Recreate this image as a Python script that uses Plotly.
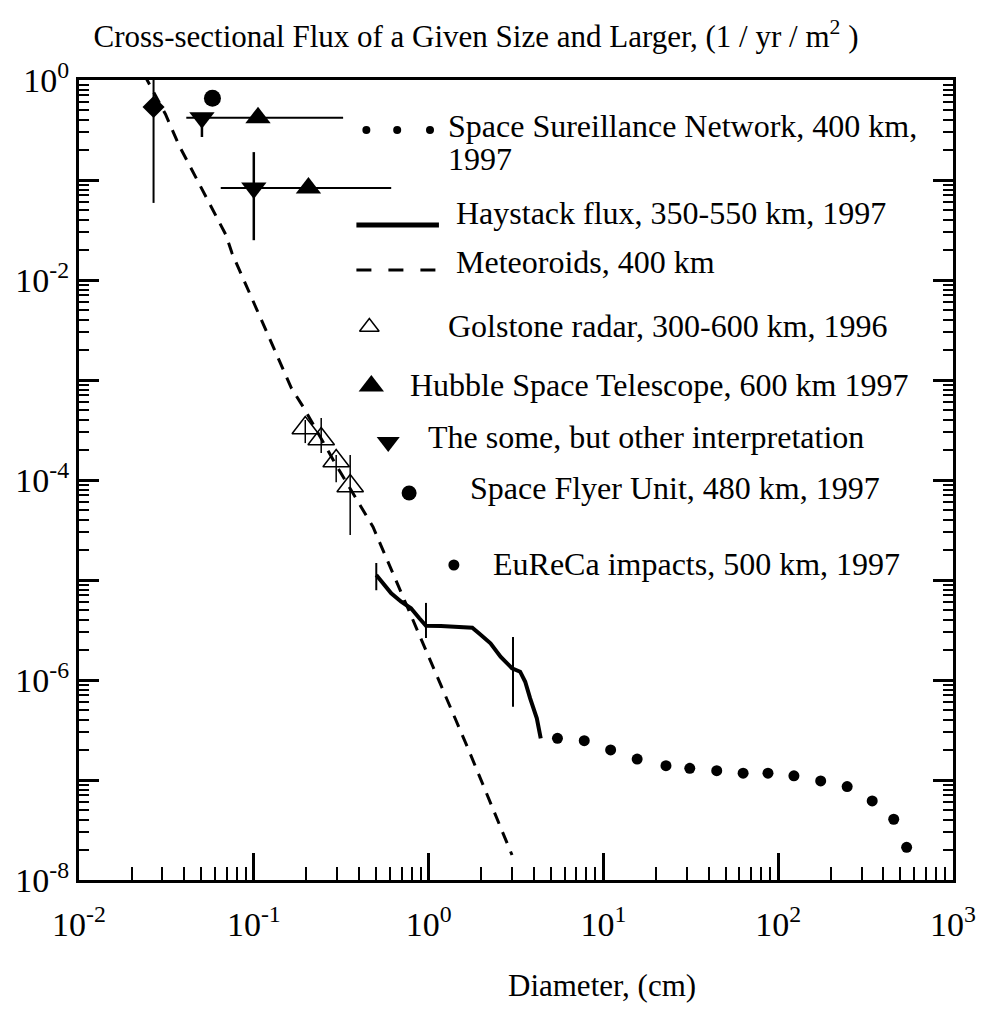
import plotly.graph_objects as go

# ---------------- data ----------------
ssn_d = [5.46, 7.77, 11.0, 15.6, 22.8, 31.2, 44.5, 63.0, 87.4, 123, 175, 248, 345, 458, 543]
ssn_f = [2.61e-7, 2.47e-7, 2.0e-7, 1.62e-7, 1.39e-7, 1.31e-7, 1.24e-7, 1.17e-7, 1.17e-7,
         1.10e-7, 9.8e-8, 8.6e-8, 6.17e-8, 4.05e-8, 2.12e-8]

hay_d = [0.502, 0.548, 0.611, 0.697, 0.793, 0.885, 0.966, 1.175, 1.40, 1.778, 1.94, 2.26,
         2.58, 3.0, 3.34, 3.57, 3.81, 4.16, 4.38]
hay_f = [1.12e-5, 9.27e-6, 7.36e-6, 6.07e-6, 5.21e-6, 4.14e-6, 3.49e-6, 3.47e-6, 3.41e-6,
         3.34e-6, 2.93e-6, 2.33e-6, 1.71e-6, 1.31e-6, 1.21e-6, 9.6e-7, 6.56e-7, 4.14e-7, 2.61e-7]
hay_err_d = [0.502, 0.966, 3.04]
hay_err_f = [1.12e-5, 3.49e-6, 1.31e-6]
hay_err_plus = [3.6e-6, 2.41e-6, 1.38e-6]
hay_err_minus = [3.3e-6, 0.86e-6, 0.77e-6]

met_d = [0.0235, 0.0312, 0.0375, 0.050, 0.0693, 0.075, 0.164, 0.192, 0.296, 0.481, 0.667,
         1.054, 1.667, 3.0]
met_f = [1.15, 0.457, 0.219, 0.083, 0.0282, 0.0186, 8.3e-4, 5.37e-4, 1.41e-4, 3.39e-5,
         8.9e-6, 1.41e-6, 2.14e-7, 1.78e-8]

gold_d = [0.197, 0.243, 0.296, 0.356]
gold_f = [3.31e-4, 2.57e-4, 1.55e-4, 8.7e-5]
gold_plus = [6.7e-5, 1.6e-4, 2.3e-5, 9.1e-5]
gold_minus = [9.7e-5, 7.1e-5, 6.0e-5, 5.88e-5]

hst_d = [0.1057, 0.2054]
hst_f = [0.42, 0.083]
hst_xplus = [0.2186, 0.4056]
hst_xminus = [0.0646, 0.1407]

alt_d = [0.0505, 0.1]
alt_f = [0.42, 0.083]
alt_plus = [0.0, 0.107]
alt_minus = [0.151, 0.058]

sfu_d = [0.058]
sfu_f = [0.656]

eur_d = [0.0267]
eur_f = [0.537]
eur_plus = [0.97]
eur_minus = [0.478]

x_tick_vals = [1e-2, 1e-1, 1e0, 1e1, 1e2, 1e3]
x_tick_text = ["10<sup>-2</sup>", "10<sup>-1</sup>", "10<sup>0</sup>", "10<sup>1</sup>",
               "10<sup>2</sup>", "10<sup>3</sup>"]
y_tick_vals = [1e0, 1e-2, 1e-4, 1e-6, 1e-8]
y_tick_text = ["10<sup>0</sup>", "10<sup>-2</sup>", "10<sup>-4</sup>", "10<sup>-6</sup>",
               "10<sup>-8</sup>"]
y_odd_decades = [1e-1, 1e-3, 1e-5, 1e-7]

legend_labels = ["Space Sureillance Network, 400 km,", "1997",
                 "Haystack flux, 350-550 km, 1997", "Meteoroids, 400 km",
                 "Golstone radar, 300-600 km, 1996", "Hubble Space Telescope, 600 km 1997",
                 "The some, but other interpretation", "Space Flyer Unit, 480 km, 1997",
                 "EuReCa impacts, 500 km, 1997"]

title_text = "Cross-sectional Flux of a Given Size and Larger, (1 / yr / m<sup>2</sup> )"
xlabel_text = "Diameter, (cm)"

# ---------------- styling / layout ----------------
FONT = "Liberation Serif"
FS = 32
TFS = 34
W, H = 988, 1010
L, R, T, B = 79, 30, 80, 130
PW, PH = W - L - R, H - T - B

x_minor = [k * 10.0 ** e for e in range(-2, 3) for k in range(2, 10)]
y_minor = [k * 10.0 ** e for e in range(-8, 0) for k in range(2, 10)]

fig = go.Figure()

# Meteoroids dashed line
fig.add_trace(go.Scatter(x=met_d, y=met_f, mode="lines",
                         line=dict(color="black", width=3, dash="12px,9px")))
# Haystack solid line
fig.add_trace(go.Scatter(x=hay_d, y=hay_f, mode="lines",
                         line=dict(color="black", width=4)))
# Haystack error bars
fig.add_trace(go.Scatter(x=hay_err_d, y=hay_err_f, mode="markers",
                         marker=dict(size=1, color="rgba(0,0,0,0)"),
                         error_y=dict(type="data", array=hay_err_plus, arrayminus=hay_err_minus,
                                      color="black", thickness=2, width=0)))
# SSN dots
fig.add_trace(go.Scatter(x=ssn_d, y=ssn_f, mode="markers",
                         marker=dict(symbol="circle", size=11, color="black")))
# Goldstone radar
fig.add_trace(go.Scatter(x=gold_d, y=gold_f, mode="markers",
                         marker=dict(symbol="triangle-up-open", size=23, color="black",
                                     line=dict(width=1.5, color="black")),
                         error_y=dict(type="data", array=gold_plus, arrayminus=gold_minus,
                                      color="black", thickness=1.5, width=0)))
# Hubble
fig.add_trace(go.Scatter(x=hst_d, y=hst_f, mode="markers",
                         marker=dict(symbol="triangle-up", size=22, color="black"),
                         error_x=dict(type="data", array=hst_xplus, arrayminus=hst_xminus,
                                      color="black", thickness=2, width=0)))
# Other interpretation
fig.add_trace(go.Scatter(x=alt_d, y=alt_f, mode="markers",
                         marker=dict(symbol="triangle-down", size=22, color="black"),
                         error_y=dict(type="data", array=alt_plus, arrayminus=alt_minus,
                                      color="black", thickness=2.5, width=0)))
# Space Flyer Unit
fig.add_trace(go.Scatter(x=sfu_d, y=sfu_f, mode="markers",
                         marker=dict(symbol="circle", size=17, color="black")))
# EuReCa
fig.add_trace(go.Scatter(x=eur_d, y=eur_f, mode="markers",
                         marker=dict(symbol="diamond", size=17, color="black"),
                         error_y=dict(type="data", array=eur_plus, arrayminus=eur_minus,
                                      color="black", thickness=2, width=0)))
# carrier trace for the odd-decade tick axis
fig.add_trace(go.Scatter(x=[None], y=[None], yaxis="y3", mode="markers", hoverinfo="skip"))

# ---------------- hand-placed legend (pixel overlay axes) ----------------
leg = dict(
    ssn_x=[368, 399, 432], ssn_y=[130, 130, 130],
    hay_x=[358, 441], hay_y=[225, 225],
    met_x=[358, 441], met_y=[270, 270],
    gold=(371, 327), hst=(373, 386), alt=(390, 442), sfu=(411, 493), eur=(456, 565),
)
lx = "x2"; ly = "y2"
fig.add_trace(go.Scatter(x=leg["ssn_x"], y=leg["ssn_y"], mode="markers", xaxis=lx, yaxis=ly,
                         marker=dict(size=8, color="black")))
fig.add_trace(go.Scatter(x=leg["hay_x"], y=leg["hay_y"], mode="lines", xaxis=lx, yaxis=ly,
                         line=dict(color="black", width=5)))
fig.add_trace(go.Scatter(x=leg["met_x"], y=leg["met_y"], mode="lines", xaxis=lx, yaxis=ly,
                         line=dict(color="black", width=3, dash="15px,17px")))
fig.add_trace(go.Scatter(x=[leg["gold"][0]], y=[leg["gold"][1]], mode="markers", xaxis=lx, yaxis=ly,
                         marker=dict(symbol="triangle-up-open", size=17, color="black",
                                     line=dict(width=1.5, color="black"))))
fig.add_trace(go.Scatter(x=[leg["hst"][0]], y=[leg["hst"][1]], mode="markers", xaxis=lx, yaxis=ly,
                         marker=dict(symbol="triangle-up", size=22, color="black")))
fig.add_trace(go.Scatter(x=[leg["alt"][0]], y=[leg["alt"][1]], mode="markers", xaxis=lx, yaxis=ly,
                         marker=dict(symbol="triangle-down", size=20, color="black")))
fig.add_trace(go.Scatter(x=[leg["sfu"][0]], y=[leg["sfu"][1]], mode="markers", xaxis=lx, yaxis=ly,
                         marker=dict(symbol="circle", size=15, color="black")))
fig.add_trace(go.Scatter(x=[leg["eur"][0]], y=[leg["eur"][1]], mode="markers", xaxis=lx, yaxis=ly,
                         marker=dict(symbol="circle", size=11, color="black")))

text_pos = [(448, 126), (448, 159), (456, 213), (456, 262), (448, 326), (410, 385),
            (428, 437), (470, 488), (493, 564)]
annotations = []
for (px, py), txt in zip(text_pos, legend_labels):
    annotations.append(dict(x=(px - L) / PW, y=(H - B - py) / PH, xref="paper", yref="paper",
                            text=txt, showarrow=False, xanchor="left", yanchor="middle",
                            font=dict(family=FONT, size=FS, color="black")))

annotations.append(dict(x=(605 - L) / PW, y=(H - B - 985) / PH, xref="paper", yref="paper",
                        text=xlabel_text, showarrow=False, xanchor="center", yanchor="middle",
                        font=dict(family=FONT, size=31, color="black")))

fig.update_layout(
    width=W, height=H,
    margin=dict(l=L, r=R, t=T, b=B),
    paper_bgcolor="white", plot_bgcolor="white",
    showlegend=False,
    font=dict(family=FONT, size=FS, color="black"),
    title=dict(text=title_text, x=476 / W, xanchor="center", y=1 - 36 / H, yanchor="middle",
               xref="container", yref="container",
               font=dict(family=FONT, size=31, color="black")),
    xaxis=dict(type="log", range=[-2, 3], showgrid=False, zeroline=False,
               showline=True, linecolor="black", linewidth=3, mirror=True,
               ticks="inside", ticklen=27, tickwidth=2.5, tickcolor="black",
               tickmode="array", tickvals=x_tick_vals, ticktext=x_tick_text,
               ticklabelstandoff=12,
               tickfont=dict(family=FONT, size=TFS, color="black"),
               minor=dict(tickmode="array", tickvals=x_minor, ticks="inside", ticklen=13,
                          tickwidth=1.8, tickcolor="black", showgrid=False)),
    yaxis=dict(type="log", range=[-8, 0], showgrid=False, zeroline=False,
               showline=True, linecolor="black", linewidth=3, mirror="ticks",
               ticks="inside", ticklen=20, tickwidth=2.5, tickcolor="black",
               tickmode="array", tickvals=y_tick_vals, ticktext=y_tick_text,
               tickfont=dict(family=FONT, size=TFS, color="black"),
               minor=dict(tickmode="array", tickvals=y_minor, ticks="inside", ticklen=10,
                          tickwidth=1.8, tickcolor="black", showgrid=False)),
    yaxis3=dict(type="log", range=[-8, 0], overlaying="y", anchor="x", showgrid=False,
                zeroline=False, showline=False, mirror="ticks", ticks="inside", ticklen=20,
                tickwidth=2.5, tickcolor="black", tickmode="array", tickvals=y_odd_decades,
                showticklabels=False, fixedrange=True),
    xaxis2=dict(overlaying="x", anchor="y2", range=[L, W - R], visible=False, fixedrange=True),
    yaxis2=dict(overlaying="y", anchor="x2", range=[H - B, T], visible=False, fixedrange=True),
    annotations=annotations,
)

fig.write_html("out.html")
